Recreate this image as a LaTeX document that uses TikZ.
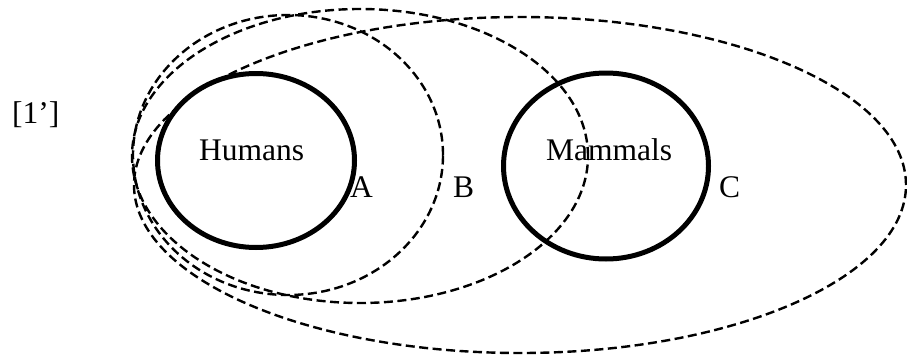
\documentclass[tikz,border=0pt]{standalone}
\usepackage{fontspec}
\setmainfont{Liberation Serif}
\usetikzlibrary{shapes.geometric}
\begin{document}
\begin{tikzpicture}[x=1pt,y=-1pt,
  setdash/.style={draw=black, line width=2.4pt, dash pattern=on 9pt off 4.5pt, ellipse, inner sep=0pt, outer sep=0pt},
  setsolid/.style={draw=black, line width=5pt, ellipse, inner sep=0pt, outer sep=0pt},
  lbl/.style={anchor=base west, inner sep=0pt, font=\fontsize{31.5}{37}\selectfont}]
\useasboundingbox (0,0) rectangle (907,356);
% big dashed ellipse
\node[setdash, minimum width=772pt, minimum height=336pt] (e3) at (520,185) {};
% Humans circle (white filled, hides part of e3)
\node[setsolid, fill=white, minimum width=197pt, minimum height=174pt] (humans) at (256,160.5) {};
% dashed ellipse B
\node[setdash, minimum width=310pt, minimum height=280pt] (e1) at (288,155) {};
% dashed ellipse through Mammals
\node[setdash, minimum width=456pt, minimum height=294pt] (e2) at (360,156) {};
% Mammals circle
\node[setsolid, minimum width=205pt, minimum height=186pt] (mammals) at (606,166) {};
% labels
\node[lbl] (t1) at (12,123) {[1’]};
\node[lbl] (th) at (199,160) {Humans};
\node[lbl] (tm) at (546,160) {Mammals};
\node[lbl] (ta) at (350,197) {A};
\node[lbl] (tb) at (453,197) {B};
\node[lbl] (tc) at (719,197) {C};
\end{tikzpicture}
\end{document}
